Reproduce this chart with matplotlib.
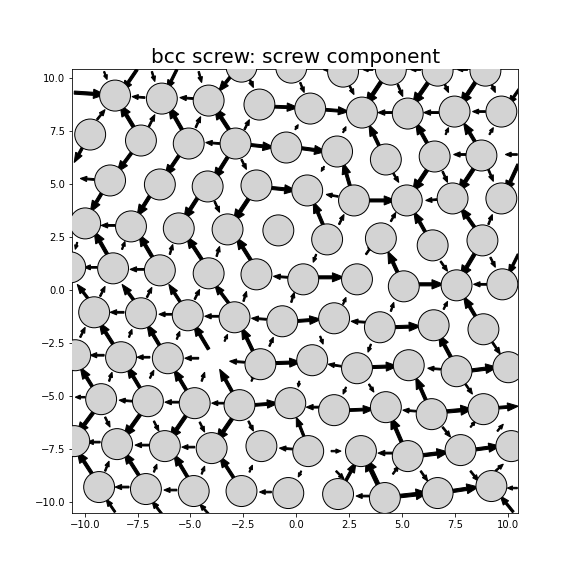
import matplotlib
matplotlib.use("Agg")
import matplotlib.pyplot as plt
import numpy as np
from matplotlib.patches import Circle

# values in its pixel frame, converted to data units below
X0_PX, Y0_PX, PX_PER_UNIT = 295.0, 290.5, 21.25

atoms_px = [
    (240, 67), (290, 68), (342, 72), (390, 70), (437, 71), (485, 71),
    (113, 96), (160, 99), (207, 101), (258, 105), (309, 109), (361, 113), (407, 114), (454, 112), (501, 112),
    (88, 135), (139, 141), (187, 144), (234, 144), (285, 148), (336, 152), (385, 160), (434, 157), (481, 156),
    (108, 181), (158, 185), (206, 187), (255, 186), (306, 191), (353, 201), (406, 201), (452, 199), (501, 199),
    (83, 224), (129, 227), (177, 229), (226, 230), (277, 231), (326, 240), (380, 239), (432, 246), (482, 241),
    (68, 268), (111, 269), (158, 271), (207, 274), (255, 275), (302, 280), (356, 280), (403, 287), (456, 286), (502, 285),
    (92, 313), (139, 314), (186, 316), (233, 318), (281, 322), (333, 319), (379, 328), (433, 326), (483, 330),
    (73, 356), (119, 358), (166, 359), (259, 365), (311, 361), (356, 369), (408, 366), (456, 372), (508, 368),
    (99, 400), (146, 402), (193, 404), (238, 406), (289, 404), (333, 411), (385, 408), (431, 415), (483, 410),
    (72, 442), (115, 445), (163, 447), (210, 449), (260, 447), (307, 452), (360, 452), (407, 457), (460, 451), (511, 447),
    (97, 488), (144, 490), (192, 492), (240, 492), (287, 494), (337, 495), (384, 499), (437, 494), (491, 487),
]

# (tail_x, tail_y, head_x, head_y)
arrows_px = [
    (72, 93, 103, 95), (135, 70, 120, 92), (102, 72, 105, 80), (143, 98, 130, 97), (150, 72, 153, 82),
    (175, 70, 165, 90), (192, 99, 178, 98), (197, 72, 200, 83), (233, 72, 217, 92), (247, 77, 252, 88),
    (270, 107, 297, 108), (95, 120, 103, 110), (135, 133, 118, 105), (147, 127, 153, 115), (183, 135, 167, 107),
    (194, 128, 199, 117), (218, 144, 204, 143), (232, 137, 213, 108), (243, 130, 248, 120), (245, 145, 273, 148),
    (240, 160, 245, 170), (92, 180, 78, 179), (132, 150, 115, 173), (83, 143, 72, 163), (180, 152, 163, 177),
    (229, 153, 212, 180), (213, 202, 218, 213), (265, 188, 295, 191), (103, 188, 88, 213), (152, 190, 135, 217),
    (200, 192, 182, 220), (252, 192, 232, 222), (113, 226, 99, 226), (108, 260, 92, 232), (120, 250, 123, 242),
    (153, 262, 137, 235), (168, 255, 171, 245), (202, 263, 185, 237), (215, 257, 218, 247), (252, 265, 235, 238),
    (95, 268, 82, 268), (142, 270, 128, 270), (287, 278, 272, 277), (75, 243, 73, 250),
    (385, 75, 365, 105), (433, 75, 412, 105), (480, 75, 460, 105), (520, 88, 508, 105),
    (348, 85, 353, 95), (397, 85, 402, 97), (443, 82, 448, 93), (490, 82, 495, 93), (299, 83, 303, 93),
    (322, 110, 348, 112), (392, 113, 377, 113), (438, 113, 423, 113), (485, 112, 472, 112),
    (380, 150, 368, 125), (430, 150, 415, 123), (478, 148, 463, 123), (342, 133, 345, 127), (294, 130, 297, 125),
    (445, 135, 448, 128), (489, 135, 493, 128), (295, 148, 325, 152), (467, 155, 453, 155), (517, 155, 505, 155),
    (432, 162, 412, 192), (478, 162, 458, 192), (518, 165, 505, 193), (392, 173, 398, 183), (442, 172, 447, 183),
    (488, 170, 493, 182), (323, 167, 320, 172), (350, 190, 342, 163), (337, 197, 325, 195), (365, 201, 395, 201),
    (438, 200, 425, 201), (323, 228, 312, 202), (427, 237, 413, 212), (477, 232, 460, 208), (338, 225, 343, 215),
    (365, 255, 372, 245), (390, 222, 395, 213), (488, 225, 492, 215), (478, 248, 460, 278), (518, 255, 508, 275),
    (315, 255, 312, 263), (440, 262, 447, 272), (490, 258, 495, 268), (400, 280, 387, 252), (313, 278, 343, 278),
    (412, 285, 443, 285), (487, 285, 473, 285),
    (330, 70, 322, 70), (372, 70, 362, 70), (420, 70, 410, 70), (467, 70, 457, 70),
    (88, 302, 75, 285), (135, 305, 120, 285), (180, 305, 167, 285), (228, 305, 213, 285),
    (98, 297, 103, 287), (145, 298, 150, 288), (193, 300, 198, 290), (242, 302, 245, 292), (290, 303, 293, 293),
    (122, 313, 108, 313), (170, 315, 157, 315), (217, 317, 203, 317), (265, 320, 250, 319),
    (113, 348, 97, 323), (160, 350, 145, 325), (207, 350, 192, 325), (253, 355, 240, 328),
    (78, 338, 83, 328), (127, 338, 130, 330), (175, 340, 178, 332), (223, 342, 226, 335), (268, 347, 272, 338),
    (102, 356, 88, 356), (148, 358, 135, 358), (197, 359, 183, 359), (243, 363, 228, 362), (270, 364, 300, 363),
    (93, 392, 78, 368), (140, 392, 125, 367), (187, 395, 172, 370), (232, 395, 218, 370),
    (148, 379, 152, 371), (107, 382, 110, 373), (200, 382, 203, 373), (250, 382, 253, 375),
    (83, 398, 73, 398), (130, 402, 117, 401), (177, 403, 163, 403), (223, 404, 210, 404), (250, 406, 277, 404),
    (95, 408, 75, 435), (142, 410, 122, 438), (188, 411, 168, 440), (235, 413, 215, 442),
    (103, 418, 108, 428), (152, 422, 157, 432), (198, 423, 203, 433), (247, 422, 252, 432),
    (98, 443, 85, 443), (147, 446, 133, 446), (193, 448, 180, 448), (292, 450, 278, 449),
    (92, 478, 75, 452), (138, 478, 122, 453), (187, 480, 172, 455), (233, 480, 218, 457),
    (103, 472, 107, 462), (152, 473, 155, 465), (200, 475, 203, 467), (248, 473, 251, 466),
    (127, 488, 113, 488), (175, 491, 162, 491), (270, 493, 258, 493),
    (113, 513, 104, 500), (160, 515, 150, 502), (207, 515, 198, 505),
    (478, 322, 463, 297), (342, 305, 345, 298), (390, 312, 393, 303), (443, 310, 447, 302), (492, 343, 500, 355),
    (319, 337, 322, 345), (292, 322, 320, 320), (365, 323, 350, 322), (390, 328, 420, 327), (370, 345, 367, 353),
    (453, 363, 438, 335), (465, 372, 497, 368), (340, 367, 327, 365), (440, 370, 427, 369), (367, 368, 397, 367),
    (298, 382, 297, 388), (345, 388, 342, 395), (368, 385, 373, 393), (465, 385, 472, 395),
    (427, 405, 415, 378), (438, 413, 472, 410), (492, 409, 518, 407), (347, 411, 373, 410),
    (320, 408, 305, 408), (415, 412, 402, 411), (303, 438, 295, 418), (403, 448, 390, 418), (383, 498, 365, 460),
    (415, 457, 448, 453), (470, 451, 500, 447), (330, 452, 340, 452), (392, 454, 377, 454),
    (442, 428, 450, 438), (470, 428, 475, 422), (497, 432, 503, 425), (335, 472, 343, 480), (343, 485, 355, 463),
    (300, 472, 297, 478), (392, 475, 398, 467), (420, 472, 427, 482), (470, 472, 478, 482), (495, 472, 503, 465),
    (390, 498, 427, 494), (445, 493, 478, 488), (368, 497, 355, 497), (517, 489, 507, 489), (513, 513, 500, 497),
]


def to_data(px, py):
    return (px - X0_PX) / PX_PER_UNIT, (Y0_PX - py) / PX_PER_UNIT


atoms = np.array([to_data(*p) for p in atoms_px])
arrows = np.array([to_data(a[0], a[1]) + to_data(a[2], a[3]) for a in arrows_px])

fig, ax = plt.subplots(figsize=(8, 8), dpi=72)

for x0, y0, x1, y1 in arrows:
    dx, dy = x1 - x0, y1 - y0
    length = np.hypot(dx, dy)
    w = 0.03 + 0.08 * length
    ax.arrow(x0, y0, dx, dy, width=w, head_width=3 * w, head_length=min(0.35 * length + 0.08, 0.55),
             length_includes_head=True, color="black", zorder=2)

for x, y in atoms:
    ax.add_patch(Circle((x, y), 0.73, facecolor="lightgray", edgecolor="black", linewidth=1, zorder=3))

ax.set_xlim(-10.6, 10.5)
ax.set_ylim(-10.5, 10.4)
ax.set_title("bcc screw: screw component", fontsize=20)

plt.savefig("out.png", dpi=72)
